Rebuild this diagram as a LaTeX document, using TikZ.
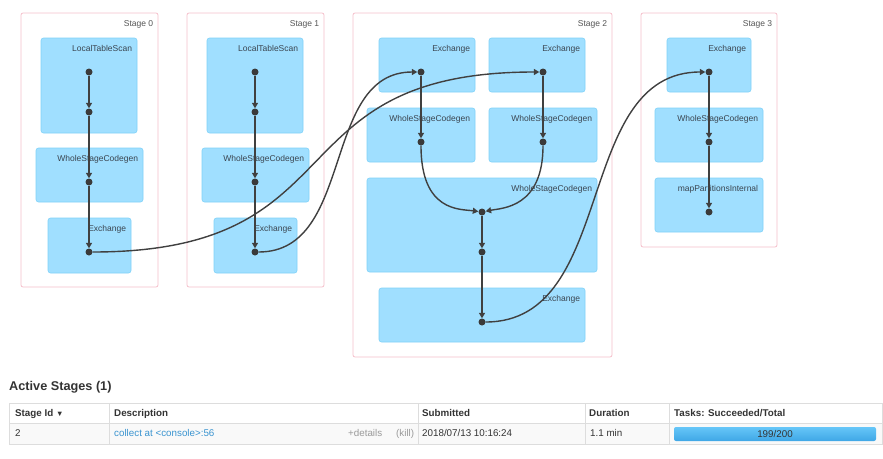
\documentclass[tikz,border=0pt]{standalone}
\usepackage{fontspec}
\setmainfont{Liberation Sans}
\usetikzlibrary{arrows.meta}
\definecolor{opblue}{HTML}{A0DFFF}
\definecolor{opline}{HTML}{80D2F8}
\definecolor{stagepink}{HTML}{F5C0CB}
\definecolor{stagegray}{HTML}{555555}
\definecolor{labelgray}{HTML}{3A4550}
\definecolor{dotgray}{HTML}{3A3A3A}
\definecolor{edgegray}{HTML}{404040}
\definecolor{textgray}{HTML}{333333}
\definecolor{linkblue}{HTML}{3A94D0}
\definecolor{softgray}{HTML}{9A9A9A}
\definecolor{gridgray}{HTML}{DDDDDD}
\definecolor{rowgray}{HTML}{F9F9F9}
\definecolor{barlight}{HTML}{66C6F8}
\definecolor{bardark}{HTML}{3FA7E6}
\begin{document}
\begin{tikzpicture}[x=1pt, y=-1pt,
stagebox/.style = {shape=rectangle, rounded corners=2pt,
	draw=stagepink, line width=0.8pt, fill=white, inner sep=0pt},
opbox/.style = {shape=rectangle, rounded corners=2.5pt,
	draw=opline, line width=0.6pt, fill=opblue, inner sep=0pt},
optext/.style = {anchor=base east, xshift=-5pt, yshift=-14pt, inner sep=0pt,
	text=labelgray, font=\fontsize{8.5}{10}\selectfont},
vertex/.style = {shape=circle, fill=dotgray, inner sep=0pt, minimum size=7pt},
flow/.style = {draw=edgegray, line width=1.4pt, -{Triangle[length=5.5pt,width=6pt]}},
tdcell/.style = {anchor=mid west, inner sep=0pt, text=textgray,
	font=\fontsize{9.8}{12}\selectfont},
thcell/.style = {tdcell, font=\fontsize{9.8}{12}\selectfont\bfseries}]

\useasboundingbox (0,0) rectangle (883,458);

\node[stagebox, minimum width=137pt, minimum height=274pt] (s0) at (89.5,150) {};
\node[optext, text=stagegray] (s0t) at (s0.north east) {Stage 0};
\node[opbox, minimum width=96pt, minimum height=95pt] (s0a) at (89,85.5) {};
\node[optext] (s0at) at (s0a.north east) {LocalTableScan};
\node[opbox, minimum width=107pt, minimum height=54pt] (s0b) at (89.5,175) {};
\node[optext] (s0bt) at (s0b.north east) {WholeStageCodegen};
\node[opbox, minimum width=83pt, minimum height=55pt] (s0c) at (89.5,245.5) {};
\node[optext] (s0ct) at (s0c.north east) {Exchange};

\node[stagebox, minimum width=137pt, minimum height=274pt] (s1) at (255.5,150) {};
\node[optext, text=stagegray] (s1t) at (s1.north east) {Stage 1};
\node[opbox, minimum width=96pt, minimum height=95pt] (s1a) at (255,85.5) {};
\node[optext] (s1at) at (s1a.north east) {LocalTableScan};
\node[opbox, minimum width=107pt, minimum height=54pt] (s1b) at (255.5,175) {};
\node[optext] (s1bt) at (s1b.north east) {WholeStageCodegen};
\node[opbox, minimum width=83pt, minimum height=55pt] (s1c) at (255.5,245.5) {};
\node[optext] (s1ct) at (s1c.north east) {Exchange};

\node[stagebox, minimum width=259pt, minimum height=344pt] (s2) at (482.5,185) {};
\node[optext, text=stagegray] (s2t) at (s2.north east) {Stage 2};
\node[opbox, minimum width=96pt, minimum height=54pt] (s2a) at (427,65) {};
\node[optext] (s2at) at (s2a.north east) {Exchange};
\node[opbox, minimum width=96pt, minimum height=54pt] (s2b) at (537,65) {};
\node[optext] (s2bt) at (s2b.north east) {Exchange};
\node[opbox, minimum width=108pt, minimum height=54pt] (s2c) at (421,135) {};
\node[optext] (s2ct) at (s2c.north east) {WholeStageCodegen};
\node[opbox, minimum width=108pt, minimum height=54pt] (s2d) at (543,135) {};
\node[optext] (s2dt) at (s2d.north east) {WholeStageCodegen};
\node[opbox, minimum width=230pt, minimum height=94pt] (s2e) at (482,225) {};
\node[optext] (s2et) at (s2e.north east) {WholeStageCodegen};
\node[opbox, minimum width=206pt, minimum height=54pt] (s2f) at (482,315) {};
\node[optext] (s2ft) at (s2f.north east) {Exchange};

\node[stagebox, minimum width=136pt, minimum height=234pt] (s3) at (709,130) {};
\node[optext, text=stagegray] (s3t) at (s3.north east) {Stage 3};
\node[opbox, minimum width=84pt, minimum height=54pt] (s3a) at (709,65) {};
\node[optext] (s3at) at (s3a.north east) {Exchange};
\node[opbox, minimum width=108pt, minimum height=54pt] (s3b) at (709,135) {};
\node[optext] (s3bt) at (s3b.north east) {WholeStageCodegen};
\node[opbox, minimum width=108pt, minimum height=54pt] (s3c) at (709,205) {};
\node[optext] (s3ct) at (s3c.north east) {mapPartitionsInternal};

\node[vertex] (v0a) at (89,72) {};
\node[vertex] (v0b) at (89,112) {};
\node[vertex] (v0c) at (89,182) {};
\node[vertex] (v0d) at (89,252) {};
\node[vertex] (v1a) at (255,72) {};
\node[vertex] (v1b) at (255,112) {};
\node[vertex] (v1c) at (255,182) {};
\node[vertex] (v1d) at (255,252) {};
\node[vertex] (v2a) at (421,72) {};
\node[vertex] (v2b) at (543,72) {};
\node[vertex] (v2c) at (421,142) {};
\node[vertex] (v2d) at (543,142) {};
\node[vertex] (v2e) at (482,212) {};
\node[vertex] (v2f) at (482,252) {};
\node[vertex] (v2g) at (482,322) {};
\node[vertex] (v3a) at (709,72) {};
\node[vertex] (v3b) at (709,142) {};
\node[vertex] (v3c) at (709,212) {};

\draw[flow] (v0a) -- (v0b);
\draw[flow] (v0b) -- (v0c);
\draw[flow] (v0c) -- (v0d);
\draw[flow] (v1a) -- (v1b);
\draw[flow] (v1b) -- (v1c);
\draw[flow] (v1c) -- (v1d);
\draw[flow] (v2a) -- (v2c);
\draw[flow] (v2b) -- (v2d);
\draw[flow] (v2c) .. controls +(0,70) and +(-22,-3) .. (v2e);
\draw[flow] (v2d) .. controls +(0,66) and +(20,-4) .. (v2e);
\draw[flow] (v2e) -- (v2f);
\draw[flow] (v2f) -- (v2g);
\draw[flow] (v3a) -- (v3b);
\draw[flow] (v3b) -- (v3c);
\draw[flow] (v0d) .. controls +(272,0) and +(-272,0) .. (v2b);
\draw[flow] (v1d) .. controls +(100,0) and +(-100,0) .. (v2a);
\draw[flow] (v2g) .. controls +(136,0) and +(-136,0) .. (v3a);

\node[tdcell, font=\fontsize{12.7}{15}\selectfont\bfseries] (title) at (9,388) {Active Stages (1)};

\fill[rowgray] (9,423) rectangle (882,444);
\draw[gridgray, line width=0.8pt] (9,403) rectangle (882,444);
\draw[gridgray, line width=0.8pt] (9,423) -- (882,423);
\draw[gridgray, line width=0.8pt] (109,403) -- (109,444);
\draw[gridgray, line width=0.8pt] (418,403) -- (418,444);
\draw[gridgray, line width=0.8pt] (585,403) -- (585,444);
\draw[gridgray, line width=0.8pt] (669,403) -- (669,444);

\node[thcell] (hid) at (15,413.5) {Stage Id {\fontsize{7.5}{8}\selectfont ▼}};
\node[thcell] (hdesc) at (114,413.5) {Description};
\node[thcell] (hsub) at (422,413.5) {Submitted};
\node[thcell] (hdur) at (589,413.5) {Duration};
\node[thcell] (htask) at (674,413.5) {Tasks: Succeeded/Total};

\node[tdcell] (cid) at (15,433.5) {2};
\node[tdcell, text=linkblue] (cdesc) at (114,433.5) {collect at <console>:56};
\node[tdcell, text=softgray] (cdet) at (348,433.5) {+details};
\node[tdcell, text=softgray] (ckill) at (396,433.5) {(kill)};
\node[tdcell] (csub) at (422,433.5) {2018/07/13 10:16:24};
\node[tdcell] (cdur) at (590,433.5) {1.1 min};
\node[shape=rectangle, rounded corners=2pt, minimum width=202pt, minimum height=14pt,
	inner sep=0pt, top color=barlight, bottom color=bardark, text=textgray,
	font=\fontsize{9.8}{12}\selectfont] (cbar) at (775,434) {199/200};
\end{tikzpicture}
\end{document}
